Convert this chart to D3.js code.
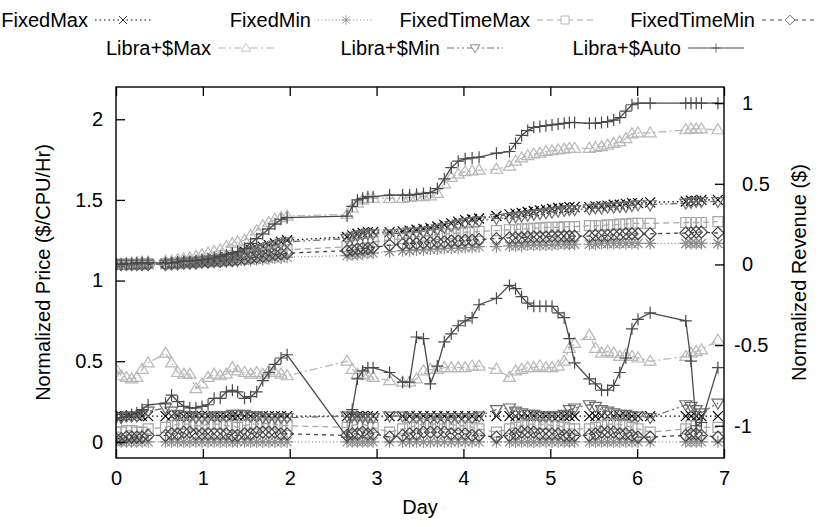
<!DOCTYPE html>
<html>
<head>
<meta charset="utf-8">
<script src="https://cdn.jsdelivr.net/npm/d3@7/dist/d3.min.js"></script>
<style>
  body { margin: 0; background: #fff; }
  text { font-family: "Liberation Sans", Arial, Helvetica, sans-serif; fill: #000; }
</style>
</head>
<body>
<svg id="chart" width="829" height="527"></svg>
<script>
// sample times (days), shared by every series
let days = [
  0, 0.06, 0.12, 0.18, 0.24, 0.3, 0.37,
  0.57, 0.64, 0.71, 0.78, 0.85, 0.92, 0.99, 1.06, 1.13, 1.2, 1.27, 1.34, 1.4,
  1.48, 1.55, 1.62, 1.69, 1.76, 1.83, 1.9, 1.97,
  2.66, 2.72, 2.78, 2.84, 2.9, 2.96,
  3.15, 3.3, 3.38, 3.46, 3.54, 3.62, 3.7, 3.78, 3.86, 3.94, 4.02, 4.1, 4.18, 4.38,
  4.53, 4.6, 4.67, 4.74, 4.81, 4.88, 4.95, 5.02, 5.09, 5.16, 5.22, 5.28,
  5.45, 5.52, 5.59, 5.66, 5.73, 5.8, 5.87, 5.94, 6.01, 6.15,
  6.56, 6.62, 6.68, 6.74, 6.93
];

let seriesNames = ["FixedMax", "FixedMin", "FixedTimeMax", "FixedTimeMin",
                   "Libra+$Max", "Libra+$Min", "Libra+$Auto"];

// normalized price (left axis)
let priceFixedMax = [
  0.16, 0.16, 0.16, 0.16, 0.16, 0.16, 0.16,
  0.16, 0.16, 0.16, 0.16, 0.16, 0.16, 0.16, 0.16, 0.16, 0.16, 0.16, 0.16, 0.16,
  0.16, 0.16, 0.16, 0.16, 0.16, 0.16, 0.16, 0.16,
  0.16, 0.16, 0.16, 0.16, 0.16, 0.16,
  0.16, 0.16, 0.16, 0.16, 0.16, 0.16, 0.16, 0.16, 0.16, 0.16, 0.16, 0.16, 0.16, 0.16,
  0.16, 0.16, 0.16, 0.16, 0.16, 0.16, 0.16, 0.16, 0.16, 0.16, 0.16, 0.16,
  0.16, 0.16, 0.16, 0.16, 0.16, 0.16, 0.16, 0.16, 0.16, 0.16,
  0.16, 0.16, 0.16, 0.16, 0.16
];
let priceFixedMin = [
  0, 0, 0, 0, 0, 0, 0,
  0, 0, 0, 0, 0, 0, 0, 0, 0, 0, 0, 0, 0,
  0, 0, 0, 0, 0, 0, 0, 0,
  0, 0, 0, 0, 0, 0,
  0, 0, 0, 0, 0, 0, 0, 0, 0, 0, 0, 0, 0, 0,
  0, 0, 0, 0, 0, 0, 0, 0, 0, 0, 0, 0,
  0, 0, 0, 0, 0, 0, 0, 0, 0, 0,
  0, 0, 0, 0, 0
];
let priceFixedTimeMax = [
  0.06, 0.06, 0.07, 0.07, 0.06, 0.06, 0.08,
  0.09, 0.1, 0.11, 0.11, 0.11, 0.1, 0.1, 0.11, 0.11, 0.11, 0.1, 0.1, 0.09,
  0.1, 0.11, 0.11, 0.12, 0.11, 0.11, 0.1, 0.1,
  0.09, 0.1, 0.11, 0.11, 0.1, 0.09,
  0.06, 0.08, 0.09, 0.1, 0.11, 0.11, 0.11, 0.11, 0.11, 0.1, 0.1, 0.09, 0.08, 0.06,
  0.08, 0.09, 0.1, 0.11, 0.11, 0.11, 0.11, 0.1, 0.1, 0.09, 0.08, 0.08,
  0.08, 0.09, 0.1, 0.11, 0.11, 0.11, 0.1, 0.09, 0.08, 0.06,
  0.08, 0.1, 0.1, 0.09, 0.09
];
let priceFixedTimeMin = [
  0.02, 0.02, 0.03, 0.03, 0.03, 0.03, 0.04,
  0.04, 0.05, 0.05, 0.06, 0.06, 0.05, 0.05, 0.05, 0.05, 0.05, 0.05, 0.04, 0.04,
  0.05, 0.05, 0.06, 0.06, 0.06, 0.06, 0.05, 0.05,
  0.04, 0.05, 0.05, 0.06, 0.05, 0.05,
  0.03, 0.04, 0.05, 0.05, 0.06, 0.06, 0.06, 0.06, 0.05, 0.05, 0.05, 0.04, 0.04, 0.03,
  0.04, 0.05, 0.06, 0.06, 0.06, 0.05, 0.05, 0.05, 0.05, 0.04, 0.04, 0.04,
  0.04, 0.05, 0.06, 0.06, 0.06, 0.05, 0.05, 0.04, 0.03, 0.03,
  0.04, 0.05, 0.05, 0.04, 0.03
];
let priceLibraMax = [
  0.45, 0.41, 0.40, 0.39, 0.40, 0.45, 0.49,
  0.55, 0.49, 0.43, 0.42, 0.42, 0.33, 0.36, 0.40, 0.42, 0.41, 0.42, 0.46, 0.44,
  0.43, 0.42, 0.43, 0.42, 0.44, 0.43, 0.42, 0.41,
  0.5, 0.45, 0.42, 0.42, 0.41, 0.4,
  0.38, 0.37, 0.37, 0.39, 0.44, 0.45, 0.45, 0.46, 0.46, 0.46, 0.46, 0.47, 0.47, 0.45,
  0.4, 0.44, 0.45, 0.46, 0.46, 0.47, 0.46, 0.46, 0.47, 0.5, 0.58, 0.61,
  0.66, 0.58, 0.55, 0.56, 0.55, 0.53, 0.54, 0.53, 0.52, 0.5,
  0.53, 0.55, 0.56, 0.57, 0.63
];
let priceLibraMin = [
  0.15, 0.15, 0.16, 0.16, 0.16, 0.17, 0.19,
  0.21, 0.19, 0.17, 0.16, 0.16, 0.15, 0.15, 0.15, 0.16, 0.16, 0.16, 0.17, 0.17,
  0.17, 0.16, 0.16, 0.15, 0.15, 0.15, 0.15, 0.15,
  0.16, 0.16, 0.15, 0.15, 0.15, 0.15,
  0.16, 0.16, 0.15, 0.15, 0.15, 0.15, 0.15, 0.15, 0.15, 0.15, 0.15, 0.15, 0.16, 0.2,
  0.21, 0.19, 0.18, 0.17, 0.17, 0.16, 0.16, 0.16, 0.16, 0.17, 0.2, 0.21,
  0.23, 0.22, 0.2, 0.19, 0.18, 0.17, 0.17, 0.16, 0.16, 0.15,
  0.23, 0.22, 0.2, 0.18, 0.24
];
let priceLibraAuto = [
  0.15, 0.15, 0.16, 0.17, 0.18, 0.2, 0.23,
  0.24, 0.29, 0.25, 0.22, 0.21, 0.21, 0.22, 0.23, 0.27, 0.27, 0.31, 0.32, 0.31,
  0.27, 0.28, 0.31, 0.38, 0.43, 0.48, 0.52, 0.54,
  0.03, 0.2, 0.39, 0.44, 0.46, 0.46,
  0.43, 0.37, 0.37, 0.65, 0.64, 0.36, 0.47, 0.62, 0.67, 0.72, 0.75, 0.77, 0.85, 0.89,
  0.97, 0.95, 0.9, 0.86, 0.84, 0.84, 0.84, 0.84, 0.8, 0.77, 0.64, 0.49,
  0.39, 0.36, 0.32, 0.32, 0.35, 0.43, 0.52, 0.7, 0.76, 0.8,
  0.75, 0.5, 0.1, 0.12, 0.46
];

// normalized revenue (right axis)
let revFixedMax = [
  0, 0, 0, 0, 0, 0, 0.005,
  0.005, 0.01, 0.01, 0.015, 0.02, 0.02, 0.025, 0.03, 0.035, 0.04, 0.045, 0.05, 0.055,
  0.08, 0.09, 0.1, 0.11, 0.12, 0.13, 0.14, 0.15,
  0.17, 0.18, 0.19, 0.195, 0.2, 0.2,
  0.2, 0.205, 0.21, 0.215, 0.22, 0.225, 0.235, 0.245, 0.255, 0.265, 0.275, 0.28, 0.285, 0.3,
  0.31, 0.315, 0.32, 0.325, 0.33, 0.335, 0.34, 0.345, 0.35, 0.35, 0.355, 0.355,
  0.355, 0.36, 0.36, 0.365, 0.37, 0.37, 0.375, 0.38, 0.38, 0.385,
  0.39, 0.395, 0.395, 0.4, 0.4
];
let revFixedMin = [
  0, 0, 0, 0, 0, 0, 0,
  0, 0, 0, 0.005, 0.005, 0.005, 0.01, 0.01, 0.01, 0.015, 0.015, 0.02, 0.02,
  0.025, 0.025, 0.03, 0.03, 0.035, 0.04, 0.04, 0.045,
  0.055, 0.06, 0.06, 0.065, 0.07, 0.07,
  0.08, 0.085, 0.085, 0.09, 0.09, 0.095, 0.095, 0.1, 0.1, 0.1, 0.105, 0.105, 0.11, 0.11,
  0.115, 0.115, 0.115, 0.12, 0.12, 0.12, 0.12, 0.12, 0.125, 0.125, 0.125, 0.125,
  0.125, 0.125, 0.13, 0.13, 0.13, 0.13, 0.13, 0.13, 0.13, 0.13,
  0.13, 0.13, 0.13, 0.13, 0.13
];
let revFixedTimeMax = [
  0, 0, 0, 0, 0, 0, 0.005,
  0.005, 0.005, 0.01, 0.01, 0.015, 0.015, 0.02, 0.02, 0.025, 0.03, 0.03, 0.035, 0.04,
  0.05, 0.055, 0.06, 0.065, 0.07, 0.08, 0.085, 0.09,
  0.11, 0.12, 0.125, 0.13, 0.135, 0.14,
  0.15, 0.16, 0.165, 0.17, 0.175, 0.18, 0.185, 0.19, 0.19, 0.195, 0.2, 0.2, 0.205, 0.21,
  0.215, 0.215, 0.22, 0.22, 0.225, 0.225, 0.23, 0.23, 0.23, 0.235, 0.235, 0.235,
  0.24, 0.24, 0.24, 0.245, 0.245, 0.25, 0.25, 0.255, 0.255, 0.255,
  0.26, 0.26, 0.26, 0.26, 0.265
];
let revFixedTimeMin = [
  0, 0, 0, 0, 0, 0, 0,
  0, 0.005, 0.005, 0.01, 0.01, 0.01, 0.015, 0.015, 0.02, 0.02, 0.025, 0.025, 0.03,
  0.035, 0.04, 0.045, 0.05, 0.055, 0.06, 0.065, 0.07,
  0.085, 0.09, 0.095, 0.1, 0.1, 0.105,
  0.12, 0.125, 0.13, 0.13, 0.135, 0.135, 0.14, 0.14, 0.145, 0.145, 0.15, 0.15, 0.155, 0.16,
  0.165, 0.165, 0.165, 0.17, 0.17, 0.17, 0.17, 0.175, 0.175, 0.175, 0.175, 0.175,
  0.175, 0.18, 0.18, 0.18, 0.185, 0.185, 0.19, 0.19, 0.19, 0.19,
  0.195, 0.195, 0.2, 0.2, 0.195
];
let revLibraMax = [
  0, 0, 0.005, 0.01, 0.01, 0.015, 0.015,
  0.02, 0.02, 0.03, 0.035, 0.04, 0.05, 0.06, 0.07, 0.08, 0.09, 0.11, 0.13, 0.14,
  0.15, 0.18, 0.21, 0.24, 0.26, 0.28, 0.29, 0.3,
  0.31, 0.35, 0.38, 0.4, 0.41, 0.41,
  0.41, 0.41, 0.415, 0.42, 0.42, 0.425, 0.44, 0.5, 0.54, 0.56, 0.575, 0.58, 0.585, 0.59,
  0.61, 0.64, 0.66, 0.675, 0.685, 0.69, 0.7, 0.705, 0.71, 0.715, 0.72, 0.72,
  0.72, 0.725, 0.73, 0.74, 0.75, 0.76, 0.78, 0.81, 0.815, 0.815,
  0.835, 0.84, 0.84, 0.84, 0.835
];
let revLibraMin = [
  0, 0, 0, 0, 0, 0, 0,
  0, 0.005, 0.005, 0.01, 0.015, 0.015, 0.02, 0.025, 0.03, 0.035, 0.04, 0.045, 0.05,
  0.07, 0.08, 0.09, 0.1, 0.11, 0.12, 0.13, 0.14,
  0.16, 0.17, 0.18, 0.185, 0.19, 0.19,
  0.19, 0.195, 0.2, 0.2, 0.205, 0.21, 0.22, 0.23, 0.24, 0.25, 0.26, 0.265, 0.27, 0.285,
  0.29, 0.295, 0.3, 0.305, 0.31, 0.315, 0.32, 0.325, 0.33, 0.335, 0.34, 0.34,
  0.345, 0.35, 0.35, 0.355, 0.355, 0.36, 0.36, 0.365, 0.37, 0.37,
  0.38, 0.385, 0.39, 0.39, 0.39
];
let revLibraAuto = [
  0, 0, 0.005, 0.005, 0.01, 0.01, 0.01,
  0.01, 0.01, 0.015, 0.02, 0.02, 0.025, 0.03, 0.035, 0.04, 0.05, 0.06, 0.07, 0.08,
  0.1, 0.13, 0.16, 0.19, 0.22, 0.25, 0.28, 0.29,
  0.3, 0.36, 0.4, 0.41, 0.42, 0.42,
  0.43, 0.43, 0.43, 0.435, 0.44, 0.445, 0.47, 0.53, 0.6, 0.64, 0.655, 0.66, 0.665, 0.69,
  0.7, 0.75, 0.8, 0.83, 0.85, 0.855, 0.86, 0.865, 0.87, 0.875, 0.88, 0.88,
  0.875, 0.875, 0.88, 0.885, 0.895, 0.91, 0.95, 0.99, 1.0, 1.0,
  1.0, 1.0, 1.0, 1.0, 1.0
];

let xTicks = [0, 1, 2, 3, 4, 5, 6, 7];
let leftTicks = [0, 0.5, 1, 1.5, 2];
let rightTicks = [-1, -0.5, 0, 0.5, 1];

// ---- styles ----
let styles = [
  { color: "#000",    dash: "1.5,3",       marker: "cross" },
  { color: "#8c8c8c", dash: "1,2.5",       marker: "star" },
  { color: "#a6a6a6", dash: "6,4",         marker: "square" },
  { color: "#454545", dash: "4,4",         marker: "diamond" },
  { color: "#b8b8b8", dash: "8,3,2,3",     marker: "tri" },
  { color: "#6e6e6e", dash: "7,3,2,3,2,3", marker: "itri" },
  { color: "#4a4a4a", dash: null,          marker: "plus" }
];
let prices = [priceFixedMax, priceFixedMin, priceFixedTimeMax, priceFixedTimeMin,
              priceLibraMax, priceLibraMin, priceLibraAuto];
let revenues = [revFixedMax, revFixedMin, revFixedTimeMax, revFixedTimeMin,
                revLibraMax, revLibraMin, revLibraAuto];

let markerPath = {
  cross:   "M-5,-5L5,5M-5,5L5,-5",
  star:    "M-4.5,-4.5L4.5,4.5M-4.5,4.5L4.5,-4.5M-6,0H6M0,-6V6",
  square:  "M-5,-5H5V5H-5Z",
  diamond: "M0,-6L6,0L0,6L-6,0Z",
  tri:     "M0,-6L6,4H-6Z",
  itri:    "M0,6L6,-4H-6Z",
  plus:    "M-6,0H6M0,-6V6"
};

let margin = { left: 116, right: 105, top: 87, bottom: 69 };
let width = 829, height = 527;
let svg = d3.select("#chart");

let x = d3.scaleLinear().domain([0, 7]).range([margin.left, width - margin.right]);
let yL = d3.scaleLinear().domain([-0.1, 2.2]).range([height - margin.bottom, margin.top]);
let yR = d3.scaleLinear().domain([-1.2, 1.1]).range([height - margin.bottom, margin.top]);

svg.append("clipPath").attr("id", "clip")
  .append("rect")
  .attr("x", margin.left).attr("y", margin.top)
  .attr("width", x(7) - margin.left).attr("height", yL(-0.1) - margin.top);

let plot = svg.append("g").attr("clip-path", "url(#clip)");

let drawCurve = (vals, yScale, st) => {
  let pts = days.map((d, i) => [x(d), yScale(vals[i])]);
  plot.append("path")
    .attr("d", d3.line()(pts))
    .attr("fill", "none")
    .attr("stroke", st.color)
    .attr("stroke-width", 1.3)
    .attr("stroke-dasharray", st.dash);
  plot.append("g").selectAll("path")
    .data(pts)
    .enter()
    .append("path")
    .attr("d", markerPath[st.marker])
    .attr("transform", p => "translate(" + p[0] + "," + p[1] + ")")
    .attr("fill", "none")
    .attr("stroke", st.color)
    .attr("stroke-width", 1.2);
};

seriesNames.forEach((name, i) => {
  drawCurve(prices[i], yL, styles[i]);
  drawCurve(revenues[i], yR, styles[i]);
});

// ---- axes ----
let fmt = d => String(d);
let fontSize = "20px";

svg.append("g")
  .attr("transform", "translate(0," + yL(-0.1) + ")")
  .call(d3.axisBottom(x).tickValues(xTicks).tickFormat(fmt)
        .tickSizeInner(-9).tickSizeOuter(0).tickPadding(13));
svg.append("g")
  .attr("transform", "translate(0," + margin.top + ")")
  .call(d3.axisTop(x).tickValues(xTicks).tickFormat("")
        .tickSizeInner(-9).tickSizeOuter(0));
svg.append("g")
  .attr("transform", "translate(" + margin.left + ",0)")
  .call(d3.axisLeft(yL).tickValues(leftTicks).tickFormat(fmt)
        .tickSizeInner(-9).tickSizeOuter(0).tickPadding(13));
let rAxis = svg.append("g")
  .attr("transform", "translate(" + x(7) + ",0)")
  .call(d3.axisRight(yR).tickValues(rightTicks).tickFormat(fmt)
        .tickSizeInner(-9).tickSizeOuter(0).tickPadding(18));
rAxis.selectAll("text").filter(d => d < 0).attr("dx", "-0.4em");

svg.selectAll(".domain").remove();
svg.selectAll(".tick line").attr("stroke", "#000").attr("stroke-width", 1.3);
svg.selectAll(".tick text")
  .style("font-size", fontSize)
  .style("font-family", "'Liberation Sans', Arial, sans-serif")
  .attr("fill", "#000");

svg.append("rect")
  .attr("x", margin.left).attr("y", margin.top)
  .attr("width", x(7) - margin.left).attr("height", yL(-0.1) - margin.top)
  .attr("fill", "none").attr("stroke", "#000").attr("stroke-width", 1.4);

// axis titles
svg.append("text")
  .attr("x", (x(0) + x(7)) / 2).attr("y", 514)
  .attr("text-anchor", "middle").style("font-size", fontSize)
  .text("Day");
svg.append("text")
  .attr("transform", "translate(50," + (margin.top + yL(-0.1)) / 2 + ") rotate(-90)")
  .attr("text-anchor", "middle").style("font-size", fontSize)
  .text("Normalized Price ($/CPU/Hr)");
svg.append("text")
  .attr("transform", "translate(806," + (margin.top + yL(-0.1)) / 2 + ") rotate(-90)")
  .attr("text-anchor", "middle").style("font-size", fontSize)
  .text("Normalized Revenue ($)");

// ---- legend ----
let legendPos = [
  { x: 95, y: 20 }, { x: 318, y: 20 }, { x: 537, y: 20 }, { x: 762, y: 20 },
  { x: 218, y: 48 }, { x: 447, y: 48 }, { x: 688, y: 48 }
];
let sampleLen = 56;
let legend = svg.append("g");
seriesNames.forEach((name, i) => {
  let p = legendPos[i], st = styles[i];
  legend.append("text")
    .attr("x", p.x - 7).attr("y", p.y + 7)
    .attr("text-anchor", "end").style("font-size", fontSize)
    .text(name);
  legend.append("line")
    .attr("x1", p.x).attr("x2", p.x + sampleLen)
    .attr("y1", p.y).attr("y2", p.y)
    .attr("stroke", st.color).attr("stroke-width", 1.2)
    .attr("stroke-dasharray", st.dash);
  legend.append("path")
    .attr("d", markerPath[st.marker])
    .attr("transform", "translate(" + (p.x + sampleLen / 2) + "," + p.y + ") scale(0.8)")
    .attr("fill", st.marker === "cross" || st.marker === "plus" || st.marker === "star" ? "none" : "#fff")
    .attr("stroke", st.color);
});
</script>
</body>
</html>
